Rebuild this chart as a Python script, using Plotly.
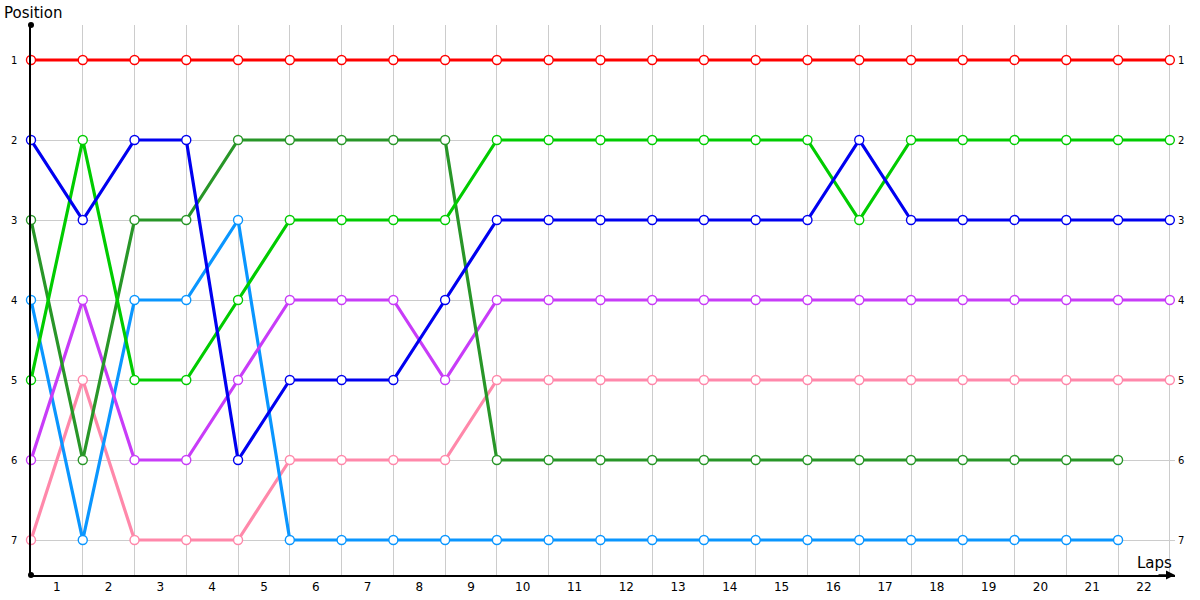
import plotly.graph_objects as go

laps = list(range(0, 23))
lap_labels = [str(i) for i in range(1, 23)]
positions = [1, 2, 3, 4, 5, 6, 7]

red = [1] * 23
blue = [2, 3, 2, 2, 6, 5, 5, 5, 4, 3, 3, 3, 3, 3, 3, 3, 2, 3, 3, 3, 3, 3, 3]
light_green = [5, 2, 5, 5, 4, 3, 3, 3, 3, 2, 2, 2, 2, 2, 2, 2, 3, 2, 2, 2, 2, 2, 2]
dark_green = [3, 6, 3, 3, 2, 2, 2, 2, 2, 6, 6, 6, 6, 6, 6, 6, 6, 6, 6, 6, 6, 6]
light_blue = [4, 7, 4, 4, 3, 7, 7, 7, 7, 7, 7, 7, 7, 7, 7, 7, 7, 7, 7, 7, 7, 7]
purple = [6, 4, 6, 6, 5, 4, 4, 4, 5, 4, 4, 4, 4, 4, 4, 4, 4, 4, 4, 4, 4, 4, 4]
pink = [7, 5, 7, 7, 7, 6, 6, 6, 6, 5, 5, 5, 5, 5, 5, 5, 5, 5, 5, 5, 5, 5, 5]

series = [
    ("pink", pink, "#ff88aa"),
    ("light_blue", light_blue, "#0a96ff"),
    ("purple", purple, "#c83cf8"),
    ("dark_green", dark_green, "#289628"),
    ("light_green", light_green, "#00cc00"),
    ("blue", blue, "#0000f0"),
    ("red", red, "#ff0000"),
]

fig = go.Figure()
for name, vals, color in series:
    fig.add_trace(go.Scatter(
        x=laps[:len(vals)], y=vals, mode="lines+markers", name=name,
        line=dict(color=color, width=3.2),
        marker=dict(size=9, color="white", line=dict(color=color, width=1.4)),
        cliponaxis=False, showlegend=False,
    ))

# invisible trace to activate secondary axes
fig.add_trace(go.Scatter(x=[0], y=[1], xaxis="x2", yaxis="y2", mode="markers",
                         marker=dict(opacity=0), showlegend=False, hoverinfo="skip"))

XR = [0, 22.1]
YR = [7.4375, 0.5625]
font = dict(family="DejaVu Sans", size=10, color="#000000")

fig.update_layout(
    width=1200, height=600,
    margin=dict(l=31, r=25, t=25, b=25, autoexpand=False),
    plot_bgcolor="white", paper_bgcolor="white",
    xaxis=dict(range=XR, tickvals=laps, showticklabels=False, showgrid=True,
               gridcolor="#cccccc", gridwidth=1, zeroline=False, automargin=False,
               showline=True, linecolor="black", linewidth=1.5, ticks=""),
    xaxis2=dict(range=XR, overlaying="x", side="bottom", tickvals=[i + 0.5 for i in range(22)],
                ticktext=lap_labels, showgrid=False, zeroline=False, showline=False,
                automargin=False,
                tickfont=dict(family="DejaVu Sans", size=12, color="black"), ticks="",
                ticklabelstandoff=3),
    yaxis=dict(range=YR, tickvals=positions, ticktext=[str(p) for p in positions],
               showgrid=True, gridcolor="#cccccc", gridwidth=1, zeroline=False,
               automargin=False,
               showline=True, linecolor="black", linewidth=1.5, ticks="",
               tickfont=font, ticklabelstandoff=10),
    yaxis2=dict(range=YR, overlaying="y", side="right", tickvals=positions,
                ticktext=[str(p) for p in positions], showgrid=False, zeroline=False,
                automargin=False,
                showline=False, ticks="", tickfont=font, ticklabelstandoff=2),
    annotations=[
        dict(text="Position", xref="paper", yref="paper", x=-31/1144, y=1 + 25/550,
             xanchor="left", yanchor="top", showarrow=False,
             font=dict(family="DejaVu Sans", size=15, color="black"), xshift=2, yshift=-2),
        dict(text="Laps", xref="paper", yref="paper", x=1, y=0, xanchor="right",
             yanchor="bottom", showarrow=False, yshift=1, xshift=-1,
             font=dict(family="DejaVu Sans", size=15, color="black")),
        dict(x=22.1, y=7.4375, ax=-18, ay=0, xref="x", yref="y", axref="pixel", ayref="pixel",
             showarrow=True, arrowhead=2, arrowsize=1.2, arrowwidth=1.5, arrowcolor="black", text=""),
    ],
    shapes=[
        dict(type="circle", xref="paper", yref="paper", x0=-3/1144, x1=3/1144,
             y0=1 - 3/550, y1=1 + 3/550, fillcolor="black", line=dict(width=0)),
        dict(type="circle", xref="paper", yref="paper", x0=-3/1144, x1=3/1144,
             y0=-3/550, y1=3/550, fillcolor="black", line=dict(width=0)),
    ],
)

fig.write_html("out.html", config={"displayModeBar": False},
               post_script="document.body.style.margin='0';")
